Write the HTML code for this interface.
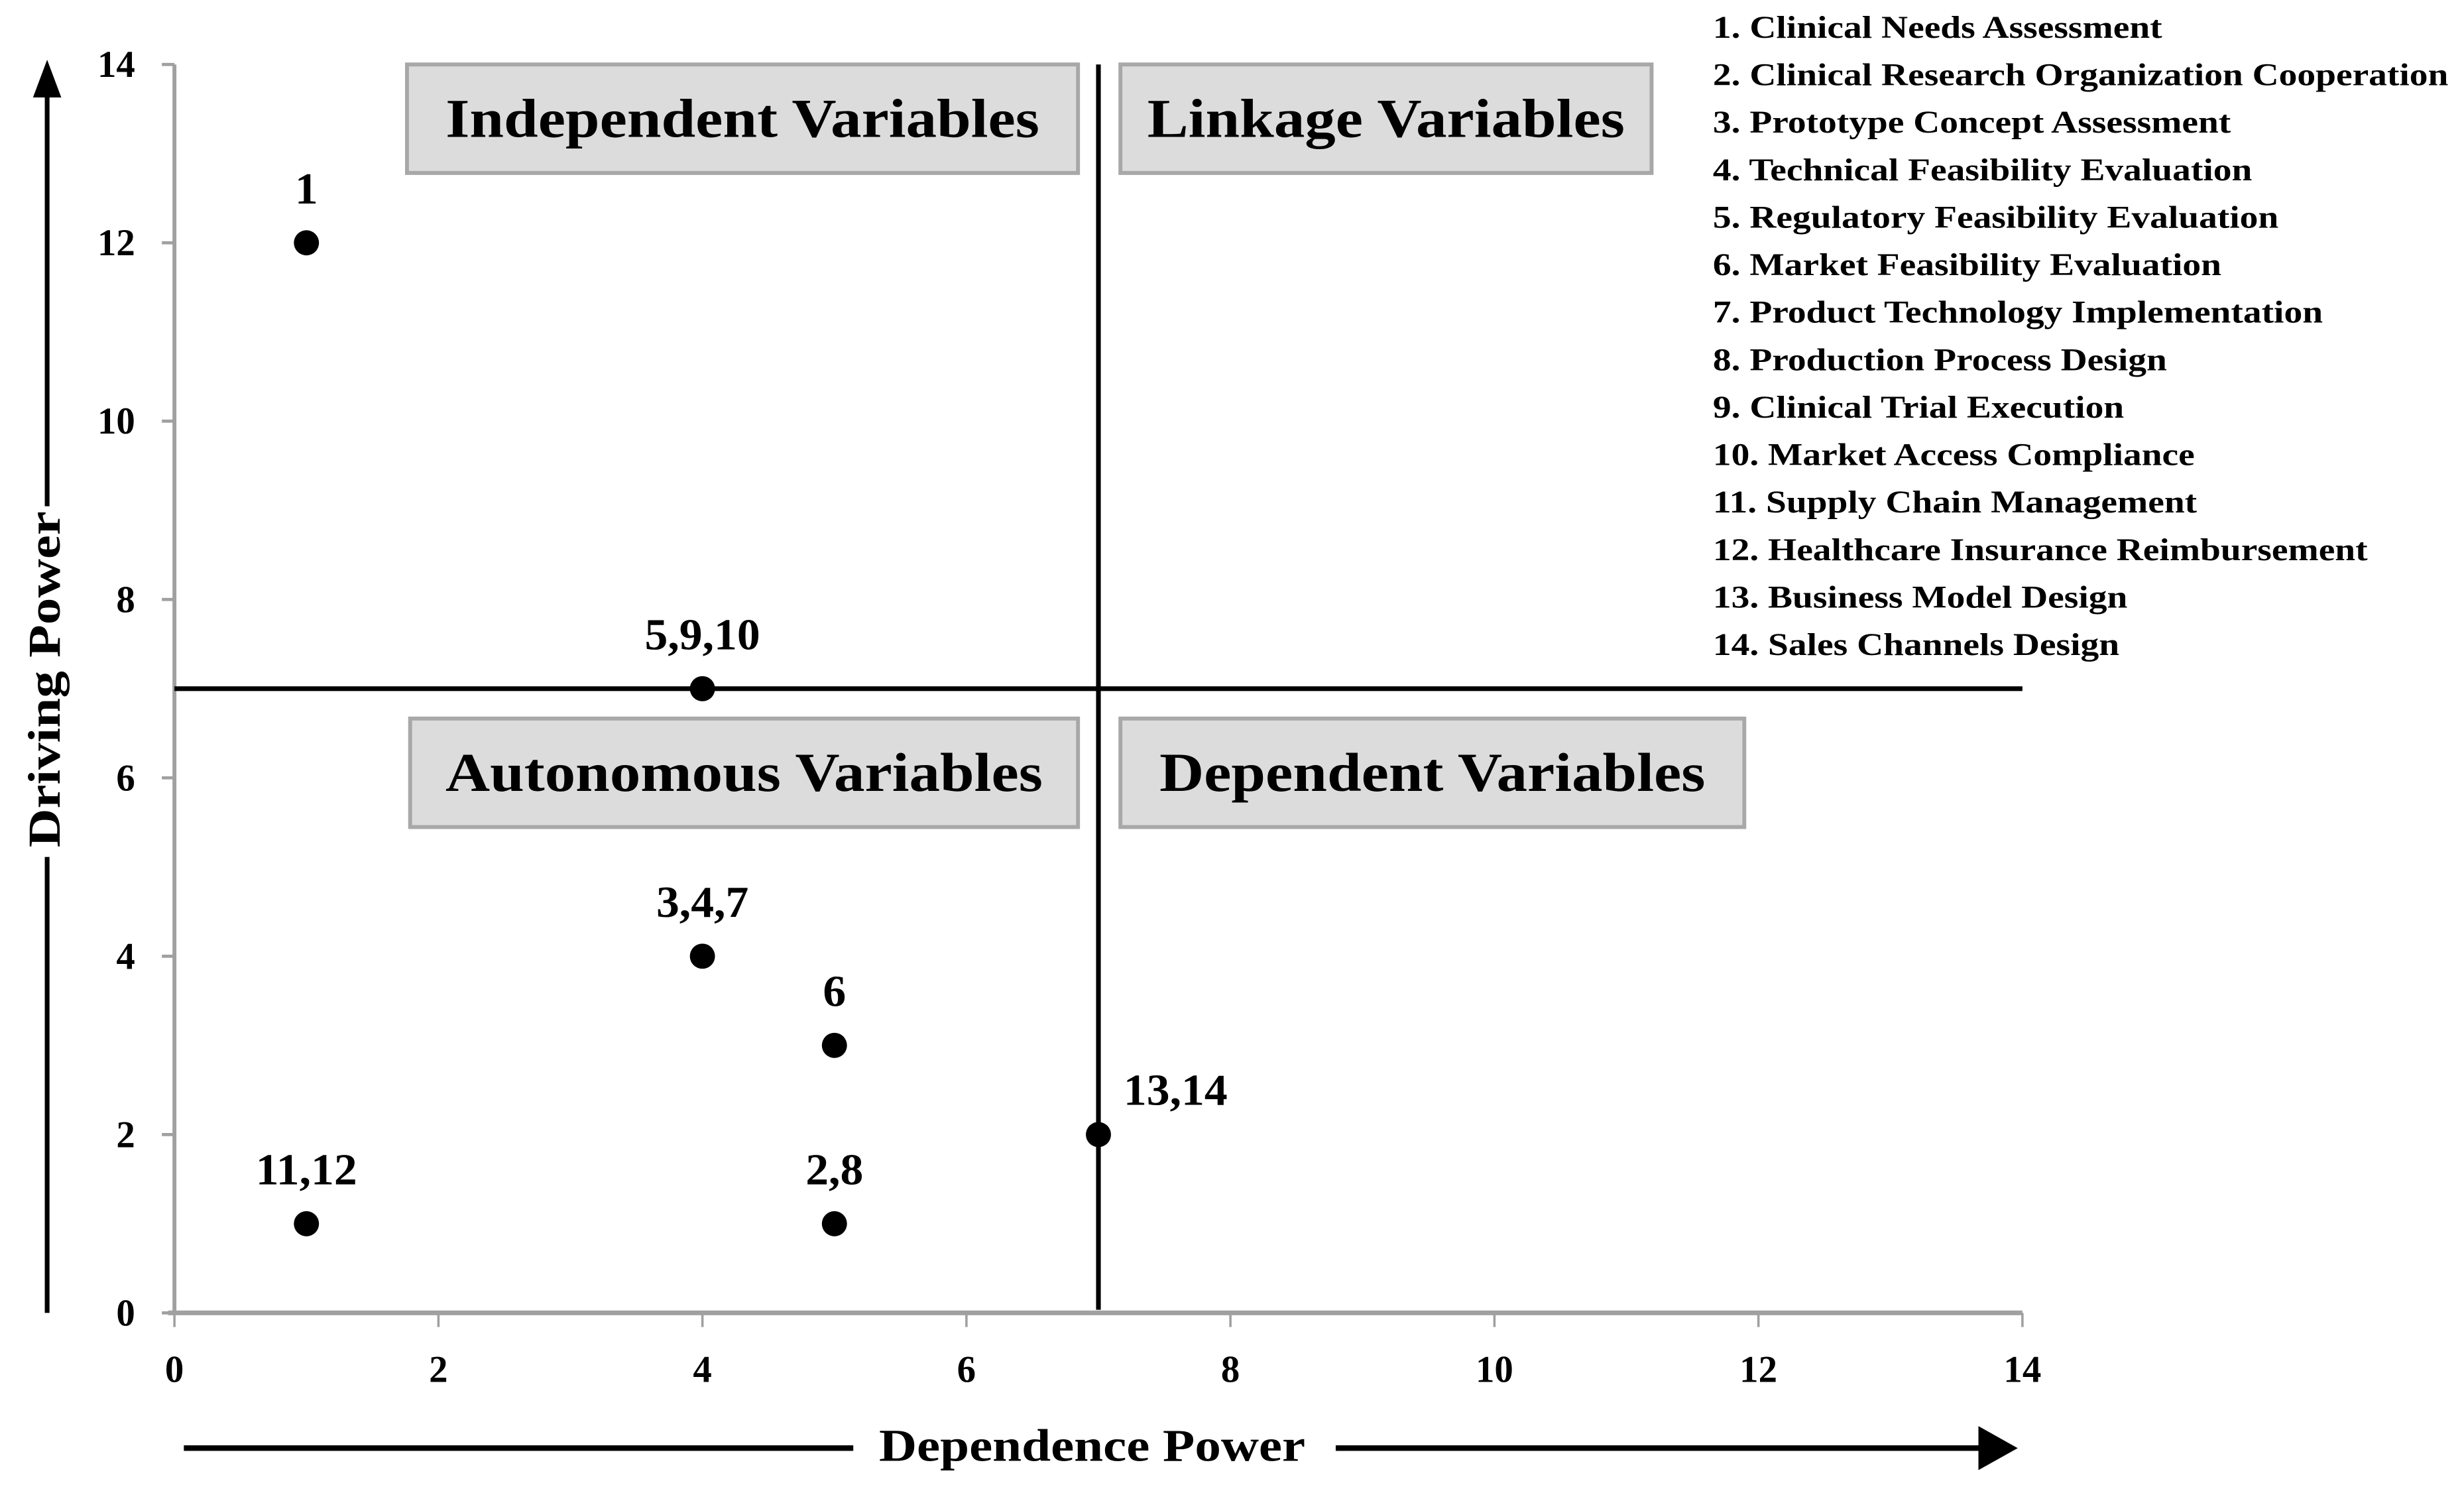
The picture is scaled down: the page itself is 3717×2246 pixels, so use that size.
<!DOCTYPE html>
<html><head><meta charset="utf-8"><style>
html,body{margin:0;padding:0;background:#fff;}
svg{display:block;font-family:"Liberation Serif",serif;}
</style></head><body>
<svg id="chart" width="3717" height="2246" viewBox="0 0 1568 947" preserveAspectRatio="none" xmlns="http://www.w3.org/2000/svg"></svg>
<script>
const xTicks=[0,2,4,6,8,10,12,14];
const yTicks=[0,2,4,6,8,10,12,14];
const pointX=[1,4,4,5,7,1,5];
const pointY=[12,7,4,3,2,1,1];
const pointLabels=["1","5,9,10","3,4,7","6","13,14","11,12","2,8"];
const thresholdX=[7];
const thresholdY=[7];
const legendItems=["1. Clinical Needs Assessment","2. Clinical Research Organization Cooperation","3. Prototype Concept Assessment","4. Technical Feasibility Evaluation","5. Regulatory Feasibility Evaluation","6. Market Feasibility Evaluation","7. Product Technology Implementation","8. Production Process Design","9. Clinical Trial Execution","10. Market Access Compliance","11. Supply Chain Management","12. Healthcare Insurance Reimbursement","13. Business Model Design","14. Sales Channels Design"];

const svg=document.getElementById('chart');
const NS='http://www.w3.org/2000/svg';
const X0=111,X1=1287,Y0=835,Y1=41;
function sx(v){return X0+(X1-X0)*v/14;}
function sy(v){return Y0-(Y0-Y1)*v/14;}
function mk(tag,attrs,parent){const e=document.createElementNS(NS,tag);for(const k in attrs)e.setAttribute(k,attrs[k]);(parent||svg).appendChild(e);return e;}
function widen(t,k){const w=t.getComputedTextLength();if(w>0){t.setAttribute('textLength',w*k);t.setAttribute('lengthAdjust','spacingAndGlyphs');}}

let g=mk('g',{});


mk('line',{x1:X0,y1:Y0,x2:X0,y2:Y1,stroke:'#a0a0a0','stroke-width':2.5},g);
yTicks.forEach(v=>{
  mk('line',{x1:X0-8,y1:sy(v),x2:X0,y2:sy(v),stroke:'#a0a0a0','stroke-width':2},g);
  const t=mk('text',{x:86,y:sy(v)+8,'text-anchor':'end','font-size':24,'font-weight':'bold',fill:'#000'},g);
  t.textContent=v;
  
  
});
g=mk('g',{});


mk('line',{x1:X0-4,y1:Y0,x2:X1,y2:Y0,stroke:'#a0a0a0','stroke-width':3},g);
xTicks.forEach(v=>{
  mk('line',{x1:sx(v),y1:Y0,x2:sx(v),y2:Y0+9,stroke:'#a0a0a0','stroke-width':1.5},g);
  const t=mk('text',{x:sx(v),y:879,'text-anchor':'middle','font-size':24,'font-weight':'bold',fill:'#000'},g);
  t.textContent=v;
  
  
});

thresholdX.forEach(v=>{
  const e=mk('line',{x1:sx(v),y1:Y1,x2:sx(v),y2:Y0-2,stroke:'#000','stroke-width':3});
  
  
});
thresholdY.forEach(v=>{
  const e=mk('line',{x1:X0,y1:sy(v),x2:X1,y2:sy(v),stroke:'#000','stroke-width':3});
  
  
});

const boxes=[["Independent Variables",259,41,427,69,'independent-variables-box'],["Linkage Variables",713,41,338,69,'linkage-variables-box'],["Autonomous Variables",261,457,425,69,'autonomous-variables-box'],["Dependent Variables",713,457,397,69,'dependent-variables-box']];
boxes.forEach(b=>{
  const gg=mk('g',{});
  
  
  mk('rect',{x:b[1],y:b[2],width:b[3],height:b[4],fill:'#dcdcdc',stroke:'#a8a8a8','stroke-width':2.5},gg);
  const t=mk('text',{x:b[1]+b[3]/2,y:b[2]+46,'text-anchor':'middle','font-size':35,'font-weight':'bold',fill:'#000'},gg);
  t.textContent=b[0];
  widen(t,1.12);
});

pointX.forEach((v,i)=>{
  const c=mk('circle',{cx:sx(v),cy:sy(pointY[i]),r:8,fill:'#000'});
  
  
  const right=pointX[i]===7;
  const t=mk('text',{x:right?sx(v)+16:sx(v),y:right?sy(pointY[i])-19:sy(pointY[i])-25,'text-anchor':right?'start':'middle','font-size':28,'font-weight':'bold',fill:'#000'});
  t.textContent=pointLabels[i];
  
  
  widen(t,1.05);
});

g=mk('g',{});


mk('line',{x1:30,y1:835,x2:30,y2:545,stroke:'#000','stroke-width':3},g);
mk('line',{x1:30,y1:322,x2:30,y2:60,stroke:'#000','stroke-width':3},g);
mk('polygon',{points:'30,38 21,62 39,62',fill:'#000'},g);
let tt=mk('text',{x:0,y:0,transform:'translate(38,432) rotate(-90)','text-anchor':'middle','font-size':29,'font-weight':'bold',fill:'#000'},g);
tt.textContent='Driving Power';
widen(tt,1.18);
g=mk('g',{});


mk('line',{x1:117,y1:921,x2:543,y2:921,stroke:'#000','stroke-width':3.5},g);
mk('line',{x1:850,y1:921,x2:1262,y2:921,stroke:'#000','stroke-width':3.5},g);
mk('polygon',{points:'1284,921 1259,907 1259,935',fill:'#000'},g);
tt=mk('text',{x:695,y:929,'text-anchor':'middle','font-size':29,'font-weight':'bold',fill:'#000'},g);
tt.textContent='Dependence Power';
widen(tt,1.15);

g=mk('g',{});


legendItems.forEach((s,i)=>{
  const t=mk('text',{x:1090,y:24+i*30.2,'font-size':20,'font-weight':'bold',fill:'#000'},g);
  t.textContent=s;
  
  
  widen(t,1.17);
});
</script>
</body></html>
